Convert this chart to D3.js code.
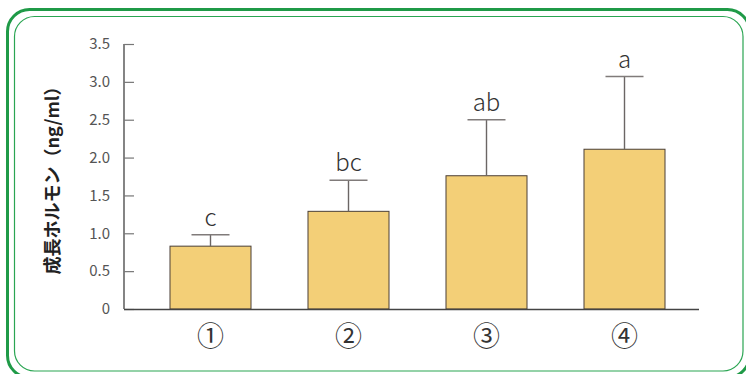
<!DOCTYPE html>
<html><head><meta charset="utf-8">
<script src="https://cdn.jsdelivr.net/npm/d3@7"></script>
<style>html,body{margin:0;padding:0;background:#fff;}svg{display:block;}</style>
</head><body>
<svg id="c" width="746" height="374"></svg>
<script>
const categories = ["①","②","③","④"];
const means = [0.83, 1.29, 1.76, 2.11];
const upper = [0.98, 1.70, 2.50, 3.07];
const letters = ["c","bc","ab","a"];
const yTicks = [0, 0.5, 1.0, 1.5, 2.0, 2.5, 3.0, 3.5];
const yTitle = "成長ホルモン（ng/ml）";

const svg = d3.select("#c");
const font = "'Noto Sans CJK JP','Noto Sans',sans-serif";

// frame
svg.append("rect").attr("x",7.5).attr("y",9.5).attr("width",742).attr("height",368)
  .attr("rx",22).attr("fill","none").attr("stroke","#1f9a47").attr("stroke-width",3);
svg.append("rect").attr("x",14.5).attr("y",16.5).attr("width",728.5).attr("height",354.5)
  .attr("rx",20).attr("fill","none").attr("stroke","#2aa552").attr("stroke-width",1.2);

const y = d3.scaleLinear().domain([0,3.5]).range([309,44]);
const x = d3.scaleBand().domain(categories).range([141.5,693.5]).paddingInner(0.413).paddingOuter(0.2065);
const axisX = 124;

// y axis
const yAxis = d3.axisRight(y).tickValues(yTicks).tickSize(10).tickFormat(d => d===0 ? "0" : d3.format(".1f")(d));
const gy = svg.append("g").attr("transform",`translate(${axisX},0)`).call(yAxis);
gy.select(".domain").attr("stroke","#333").attr("stroke-width",1.2).attr("d",`M0,${y(3.5)}V${y(0)}`);
gy.selectAll(".tick line").attr("stroke","#777").attr("stroke-width",1.2);
gy.selectAll(".tick text").attr("x",-14).attr("text-anchor","end").attr("fill","#555")
  .attr("font-size",15).attr("font-family",font);

// bars
svg.selectAll("rect.bar").data(categories).enter().append("rect").attr("class","bar")
  .attr("x",d=>x(d)).attr("width",x.bandwidth())
  .attr("y",(d,i)=>y(means[i])).attr("height",(d,i)=>y(0)-y(means[i]))
  .attr("fill","#f3cf77").attr("stroke","#4a3f36").attr("stroke-width",1);

// error bars
const cx = d => x(d)+x.bandwidth()/2;
svg.selectAll("line.err").data(categories).enter().append("line")
  .attr("x1",cx).attr("x2",cx).attr("y1",(d,i)=>y(means[i])).attr("y2",(d,i)=>y(upper[i]))
  .attr("stroke","#6b6665").attr("stroke-width",1.4);
svg.selectAll("line.cap").data(categories).enter().append("line")
  .attr("x1",d=>cx(d)-19).attr("x2",d=>cx(d)+19).attr("y1",(d,i)=>y(upper[i])).attr("y2",(d,i)=>y(upper[i]))
  .attr("stroke","#807b7a").attr("stroke-width",1.6);

// letters
svg.selectAll("text.lab").data(categories).enter().append("text")
  .attr("x",cx).attr("y",(d,i)=>y(upper[i])-9).attr("text-anchor","middle")
  .attr("font-size",24).attr("font-family",font).attr("font-weight",300).attr("fill","#333")
  .text((d,i)=>letters[i]);

// x axis
svg.append("line").attr("x1",axisX).attr("x2",699).attr("y1",y(0)+0.5).attr("y2",y(0)+0.5)
  .attr("stroke","#444").attr("stroke-width",1.4);
svg.selectAll("text.cat").data(categories).enter().append("text")
  .attr("x",cx).attr("y",346).attr("text-anchor","middle")
  .attr("font-size",27).attr("font-family",font).attr("fill","#333").text(d=>d);

// y title
svg.append("text").attr("transform",`translate(59,176) rotate(-90)`).attr("text-anchor","middle")
  .attr("font-size",18).attr("font-weight",700).attr("font-family",font).attr("fill","#222")
  .text(yTitle);
</script>
</body></html>
